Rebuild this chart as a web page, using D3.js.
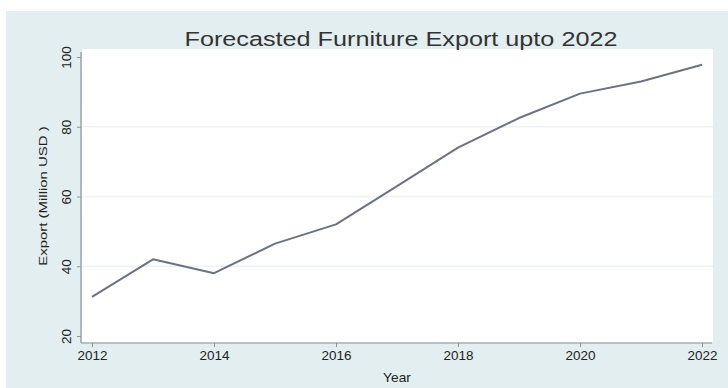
<!DOCTYPE html>
<html>
<head>
<meta charset="utf-8">
<script src="https://cdn.jsdelivr.net/npm/d3@7"></script>
<style>
  html, body { margin: 0; padding: 0; background: #ffffff; }
  svg { display: block; }
  text { font-family: "Liberation Sans", Arial, sans-serif; }
</style>
</head>
<body>
<svg id="chart" width="728" height="388"></svg>
<script>
// Forecasted furniture export values (million USD), by year
const years = [2012, 2013, 2014, 2015, 2016, 2017, 2018, 2019, 2020, 2021, 2022];
const exportValues = [31.2, 42, 38, 46.5, 52, 63, 74, 82.5, 89.5, 93, 97.8];
const xTicks = [2012, 2014, 2016, 2018, 2020, 2022];
const yTicks = [20, 40, 60, 80, 100];
const titleText = "Forecasted Furniture Export upto 2022";
const xLabel = "Year";
const yLabel = "Export  (Million USD )";

const W = 728, H = 388;
const svg = d3.select("#chart");

// outer graph region (light blue-gray) and white plot region
const bg = { x: 6, y: 11 };
const plot = { left: 82, right: 713, top: 49, bottom: 342 };

svg.append("rect").attr("x", bg.x).attr("y", bg.y)
  .attr("width", W - bg.x).attr("height", H - bg.y)
  .attr("fill", "#e3eef0");

svg.append("rect").attr("x", plot.left).attr("y", plot.top)
  .attr("width", plot.right - plot.left).attr("height", plot.bottom - plot.top)
  .attr("fill", "#ffffff");

const x = d3.scaleLinear().domain([2012, 2022]).range([92, 702]);
const y = d3.scaleLinear().domain([20, 100]).range([336, 57]);

// horizontal grid lines
svg.append("g").selectAll("line")
  .data(yTicks.filter(v => v > 20 && v < 100))
  .join("line")
  .attr("x1", plot.left).attr("x2", plot.right)
  .attr("y1", d => y(d)).attr("y2", d => y(d))
  .attr("stroke", "#edf3f4").attr("stroke-width", 1.5);

// y axis (labels rotated, reading upward)
const yAxis = svg.append("g")
  .attr("transform", `translate(${plot.left - 1},0)`)
  .call(d3.axisLeft(y).tickValues(yTicks).tickSize(4).tickSizeOuter(0).tickFormat(d3.format("d")));
yAxis.select(".domain").attr("stroke", "#8a9498").attr("stroke-width", 1.2)
  .attr("d", `M0,${plot.top + 3}V${plot.bottom + 1}`);
yAxis.selectAll(".tick line").attr("stroke", "#8a9498");
yAxis.selectAll(".tick text")
  .attr("font-size", 12.5).attr("fill", "#222")
  .attr("text-anchor", "middle")
  .attr("transform", "translate(-10,0) rotate(-90) scale(1.08,1)")
  .attr("x", 0).attr("y", 0).attr("dy", 0);

// x axis
const xAxis = svg.append("g")
  .attr("transform", `translate(0,${plot.bottom + 1})`)
  .call(d3.axisBottom(x).tickValues(xTicks).tickSize(4).tickSizeOuter(0).tickFormat(d3.format("d")));
xAxis.select(".domain").attr("stroke", "#8a9498").attr("stroke-width", 1.2)
  .attr("d", `M${plot.left - 1},0H${plot.right - 1}`);
xAxis.selectAll(".tick line").attr("stroke", "#8a9498");
xAxis.selectAll(".tick text").attr("font-size", 12.5).attr("fill", "#222").attr("y", 8)
  .attr("transform", "scale(1.08,1)");

// data line
const line = d3.line().x((d, i) => x(years[i])).y(d => y(d));
svg.append("path")
  .datum(exportValues)
  .attr("d", line)
  .attr("fill", "none")
  .attr("stroke", "#6c7284")
  .attr("stroke-width", 2)
  .attr("stroke-linejoin", "round");

// title and axis titles (horizontally widened type)
svg.append("text")
  .attr("transform", "translate(401,46) scale(1.23,1)")
  .attr("text-anchor", "middle").attr("font-size", 20.5)
  .attr("fill", "#333")
  .text(titleText);

svg.append("text")
  .attr("transform", "translate(397,382) scale(1.1,1)")
  .attr("text-anchor", "middle").attr("font-size", 12.5).attr("fill", "#222")
  .text(xLabel);

svg.append("text")
  .attr("transform", `translate(47,196) rotate(-90) scale(1.3,1)`)
  .attr("text-anchor", "middle").attr("font-size", 11.5)
  .attr("fill", "#222")
  .text(yLabel);
</script>
</body>
</html>
